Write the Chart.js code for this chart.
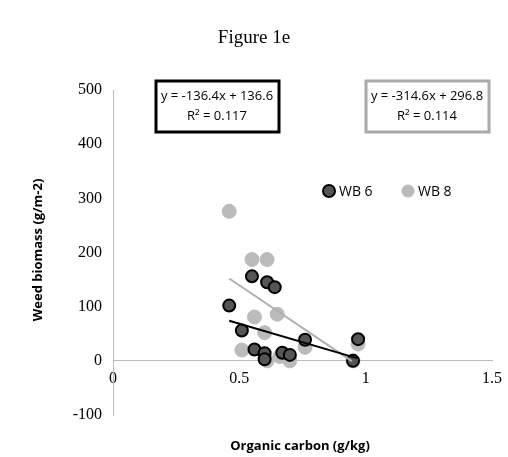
<!DOCTYPE html>
<html>
<head>
<script src="https://cdn.jsdelivr.net/npm/chart.js"></script>
<style>
  body { margin: 0; background: #fff; }
  #wrap { width: 508px; height: 457px; }
</style>
</head>
<body>
<div id="wrap"><canvas id="c"></canvas></div>
<script>
// WB 6 points (organic carbon, weed biomass)
const wb6X = [0.46, 0.51, 0.55, 0.61, 0.64, 0.56, 0.60, 0.67, 0.70, 0.76, 0.97, 0.95, 0.60];
const wb6Y = [102, 56, 156, 145, 136, 21, 14, 15, 11, 39, 40, 0, 3];
// WB 8 points
const wb8X = [0.46, 0.55, 0.61, 0.56, 0.65, 0.60, 0.51, 0.66, 0.70, 0.61, 0.76, 0.97, 0.95];
const wb8Y = [276, 187, 187, 81, 86, 52, 20, 8, 0, 0, 25, 31, 0];
// fitted trend lines
const fit6 = { m: -136.4, b: 136.6, x0: 0.46, x1: 0.965 };
const fit8 = { m: -314.6, b: 296.8, x0: 0.46, x1: 0.945 };
const xTicks = [0, 0.5, 1, 1.5];
const yTicks = [-100, 0, 100, 200, 300, 400, 500];

const pts = (xs, ys) => xs.map((x, i) => ({ x: x, y: ys[i] }));
const line = f => [{ x: f.x0, y: f.m * f.x0 + f.b }, { x: f.x1, y: f.m * f.x1 + f.b }];

const overlay = {
  id: 'overlay',
  afterDraw(chart) {
    const ctx = chart.ctx;
    ctx.save();
    ctx.fillStyle = '#000';
    ctx.textAlign = 'center';
    ctx.textBaseline = 'middle';
    ctx.font = '19px "Liberation Serif"';
    ctx.fillText('Figure 1e', 254, 38);
    ctx.font = 'bold 13px "Open Sans"';
    ctx.fillText('Organic carbon (g/kg)', 300, 446);
    ctx.translate(38, 250);
    ctx.rotate(-Math.PI / 2);
    ctx.fillText('Weed biomass (g/m-2)', 0, 0);
    ctx.restore();

    ctx.save();
    // equation boxes
    ctx.lineWidth = 3;
    ctx.strokeStyle = '#000';
    ctx.strokeRect(156, 81, 123, 51);
    ctx.strokeStyle = '#aaa';
    ctx.strokeRect(366, 81, 123, 51);
    ctx.fillStyle = '#000';
    ctx.font = '13px "Open Sans"';
    ctx.textAlign = 'center';
    ctx.textBaseline = 'middle';
    ctx.fillText('y = -136.4x + 136.6', 217, 96);
    ctx.fillText('R² = 0.117', 217, 116);
    ctx.fillText('y = -314.6x + 296.8', 427, 96);
    ctx.fillText('R² = 0.114', 427, 116);
    // legend
    ctx.beginPath();
    ctx.arc(329, 191, 6, 0, Math.PI * 2);
    ctx.fillStyle = '#555';
    ctx.fill();
    ctx.lineWidth = 2;
    ctx.strokeStyle = '#000';
    ctx.stroke();
    ctx.beginPath();
    ctx.arc(408, 191, 6.5, 0, Math.PI * 2);
    ctx.fillStyle = '#bbb';
    ctx.fill();
    ctx.fillStyle = '#000';
    ctx.textAlign = 'left';
    ctx.font = '14px "Open Sans"';
    ctx.fillText('WB 6', 339, 192);
    ctx.fillText('WB 8', 418, 192);
    ctx.restore();
  }
};

new Chart(document.getElementById('c'), {
  type: 'scatter',
  data: {
    datasets: [
      { data: line(fit8), type: 'line', borderColor: '#b0b0b0', borderWidth: 2, pointRadius: 0, order: 1 },
      { data: line(fit6), type: 'line', borderColor: '#000', borderWidth: 2, pointRadius: 0, order: 0 },
      { data: pts(wb8X, wb8Y), backgroundColor: '#bbbbbb', borderColor: '#bbbbbb', pointRadius: 7, order: 3 },
      { data: pts(wb6X, wb6Y), backgroundColor: '#555555', borderColor: '#000', borderWidth: 2, pointRadius: 6, order: 2 }
    ]
  },
  options: {
    responsive: true,
    maintainAspectRatio: false,
    animation: false,
    layout: { padding: { left: 0, right: 16, top: 90, bottom: 42 } },
    plugins: { legend: { display: false }, tooltip: { enabled: false } },
    scales: {
      x: {
        type: 'linear', min: 0, max: 1.5, position: { y: 0 },
        afterBuildTicks: s => { s.ticks = xTicks.map(v => ({ value: v })); },
        grid: { display: false, drawTicks: true, tickLength: 5 },
        border: { color: '#bbb', width: 1 },
        ticks: { color: '#000', font: { family: 'Liberation Serif', size: 16 }, padding: 3, callback: v => String(v) }
      },
      y: {
        min: -100, max: 500,
        afterBuildTicks: s => { s.ticks = yTicks.map(v => ({ value: v })); },
        afterFit: s => { s.width = 113; },
        grid: { display: false, drawTicks: true, tickLength: 5 },
        border: { color: '#bbb', width: 1 },
        ticks: { color: '#000', font: { family: 'Liberation Serif', size: 16 }, padding: 6 }
      }
    }
  },
  plugins: [overlay]
});
</script>
</body>
</html>
